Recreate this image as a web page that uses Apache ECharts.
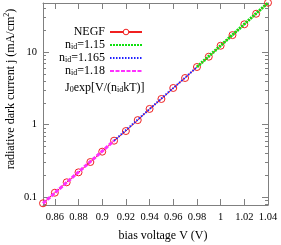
<!DOCTYPE html>
<html><head><meta charset="utf-8">
<script src="https://cdn.jsdelivr.net/npm/echarts@6/dist/echarts.min.js"></script>
<style>html,body{margin:0;padding:0;background:#fff}#c{width:281px;height:245px}</style>
</head><body><div id="c"></div>
<script>
// ---- data ----
const voltage = [0.85,0.86,0.87,0.88,0.89,0.90,0.91,0.92,0.93,0.94,0.95,0.96,0.97,0.98,0.99,1.00,1.01,1.02,1.03,1.04];
const negfCurrent = [0.0819,0.1146,0.1595,0.219,0.304,0.422,0.598,0.813,1.15,1.64,2.25,3.19,4.38,6.21,8.61,12.2,17.1,24.1,33.7,47.8];
const fit115V = [0.98, 1.04];
const fit115J = [6.21, 47.8];
const fit1165V = [0.91, 0.98];
const fit1165J = [0.598, 6.21];
const fit118V = [0.85, 0.91];
const fit118J = [0.0819, 0.598];
const yMajorLabels = {'-1':'0.1','0':'1','1':'10'};
const yMinorTicks = [0.08,0.09,0.2,0.3,0.4,0.5,0.6,0.7,0.8,0.9,2,3,4,5,6,7,8,9,20,30,40];
const xRange = [0.85, 1.04];
const yRange = [0.0776, 47.4];

const FONT = "'Liberation Serif','Times New Roman',serif";
const AX = '#808080';
const RED = '#f02020';
const zip = (a,b) => a.map((v,i)=>[v,b[i]]);

const legendNames = {
  'NEGF': '{t|NEGF}',
  'n115': '{t|n}{s|id}{t|=1.15}',
  'n1165': '{t|n}{s|id}{t|=1.165}',
  'n118': '{t|n}{s|id}{t|=1.18}'
};
const rich = {
  t: {fontFamily: FONT, fontSize: 12, lineHeight: 12, color:'#000', verticalAlign:'bottom'},
  s: {fontFamily: FONT, fontSize: 8, lineHeight: 6, color:'#000', verticalAlign:'bottom'}
};

function axisBase(extra){
  return Object.assign({
    axisLine: {show:true, lineStyle:{color:AX, width:1}},
    axisTick: {show:true, inside:true, length:6, lineStyle:{color:AX}},
    splitLine: {show:false},
  }, extra);
}

const hiddenSym = {opacity:0};

const chart = echarts.init(document.getElementById('c'), null, {renderer:'canvas'});
chart.setOption({
  animation: false,
  backgroundColor: '#fff',
  grid: {left:43, right:13, top:3, bottom:40},
  xAxis: [
    axisBase({type:'value', min:xRange[0], max:xRange[1], splitNumber:10, position:'bottom',
      axisLabel:{show:true, fontFamily:FONT, fontSize:10.5, color:'#000', margin:7, showMinLabel:false}}),
    axisBase({type:'value', min:xRange[0], max:xRange[1], splitNumber:10, position:'top',
      axisLabel:{show:false}})
  ],
  yAxis: [
    axisBase({type:'log', logBase:10, min:yRange[0], max:yRange[1], position:'left',
      axisLabel:{show:true, fontFamily:FONT, fontSize:10.5, color:'#000', margin:6,
        formatter: v => { const l = Math.log10(v); const r = Math.round(l); return Math.abs(l-r)<1e-6 ? (yMajorLabels[String(r)]||'') : ''; }}}),
    axisBase({type:'log', logBase:10, min:yRange[0], max:yRange[1], position:'right',
      axisLabel:{show:false}})
  ],
  legend: {
    data: [{name:'NEGF', itemStyle:{color:'#fff', borderColor:RED, borderWidth:1}},
           {name:'n115', itemStyle:hiddenSym}, {name:'n1165', itemStyle:hiddenSym}, {name:'n118', itemStyle:hiddenSym}],
    orient: 'vertical', align: 'right',
    right: 138, top: 26, padding: 0,
    itemWidth: 32, itemHeight: 7, itemGap: 1,
    formatter: n => legendNames[n],
    textStyle: {fontFamily: FONT, fontSize: 12, color:'#000', lineHeight:12, rich: rich},
    selectedMode: false
  },
  series: [
    {name:'NEGF', type:'line', data: zip(voltage, negfCurrent), clip:false,
      symbol:'circle', symbolSize:7,
      itemStyle:{color:'rgba(0,0,0,0)', borderColor:RED, borderWidth:1},
      lineStyle:{color:RED, width:1}, z:2},
    {name:'n115', type:'line', data: zip(fit115V, fit115J), symbol:'none',
      itemStyle:{color:'#10e010'},
      lineStyle:{color:'#10e010', width:3, type:[2,1]}, z:3},
    {name:'n1165', type:'line', data: zip(fit1165V, fit1165J), symbol:'none',
      itemStyle:{color:'#2020ff'},
      lineStyle:{color:'#2020ff', width:2, type:[1.5,1.5]}, z:4},
    {name:'n118', type:'line', data: zip(fit118V, fit118J), symbol:'none',
      itemStyle:{color:'#ff30ff'},
      lineStyle:{color:'#ff30ff', width:3, type:[4,1.5]}, z:5},
    {type:'custom', silent:true, clip:false,
      data: yMinorTicks.map(v => [xRange[0], v]),
      encode:{x:0, y:1},
      renderItem: (params, api) => {
        const v = api.value(1);
        const L = api.coord([xRange[0], v]);
        const R = api.coord([xRange[1], v]);
        const y = Math.round(L[1]) + 0.5;
        return {type:'group', children:[
          {type:'line', shape:{x1:L[0], y1:y, x2:L[0]+3, y2:y}, style:{stroke:AX, lineWidth:1}},
          {type:'line', shape:{x1:R[0]-3, y1:y, x2:R[0], y2:y}, style:{stroke:AX, lineWidth:1}}
        ]};
      }, z:1}
  ],
  graphic: [
    {type:'text', left:65, top:82,
      style:{text:'{t|J}{s|0}{t|exp[V/(n}{s|id}{t|kT)]}', rich: rich, fontFamily:FONT}},
    {type:'text', x:163, y:236,
      style:{text:'bias voltage V (V)', fontFamily:FONT, fontSize:12, fill:'#000', align:'center', verticalAlign:'middle'}},
    {type:'text', x:12, y:89, rotation:Math.PI/2,
      style:{text:'{a|radiative dark current j (mA/cm}{p|2}{a|)}', align:'center', verticalAlign:'middle',
        rich:{a:{fontFamily:FONT, fontSize:12, color:'#000', verticalAlign:'top', lineHeight:14},
              p:{fontFamily:FONT, fontSize:8, color:'#000', verticalAlign:'top', lineHeight:14, padding:[-2,0,0,0]}}}}
  ]
});
</script>
</body></html>
